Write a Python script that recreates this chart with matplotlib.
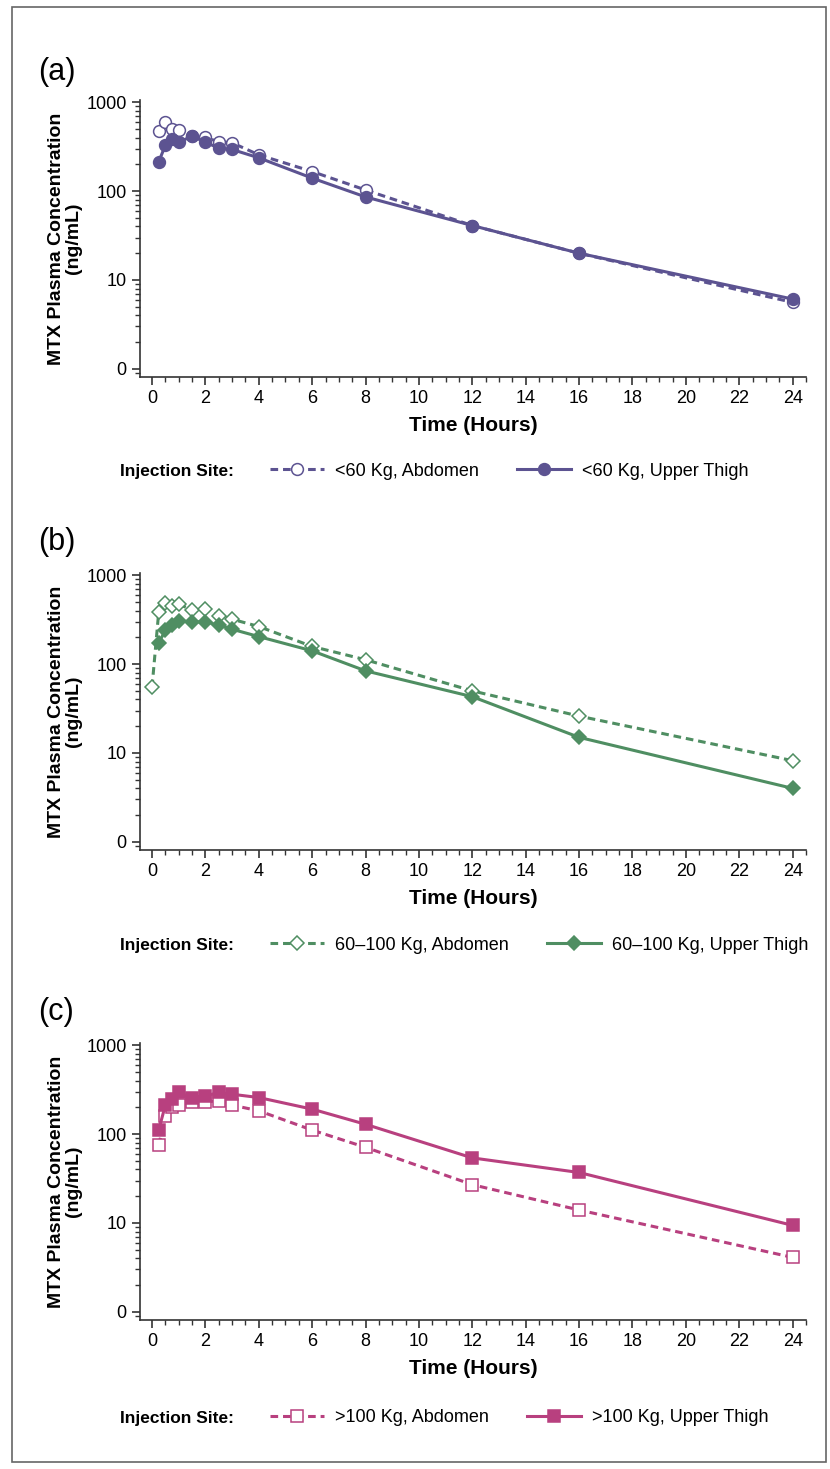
import matplotlib
matplotlib.use("Agg")
import matplotlib.pyplot as plt
from matplotlib.lines import Line2D
from matplotlib.patches import Rectangle
from matplotlib.ticker import FixedLocator, LogLocator, NullFormatter, MultipleLocator

plt.rcParams['font.family'] = ['Liberation Sans', 'DejaVu Sans']

# time points (hours)
time_a = [0.25, 0.5, 0.75, 1, 1.5, 2, 2.5, 3, 4, 6, 8, 12, 16, 24]
time_b = [0.25, 0.5, 0.75, 1, 1.5, 2, 2.5, 3, 4, 6, 8, 12, 16, 24]
time_b_abd = [0, 0.25, 0.5, 0.75, 1, 1.5, 2, 2.5, 3, 4, 6, 8, 12, 16, 24]
time_c = [0.25, 0.5, 0.75, 1, 1.5, 2, 2.5, 3, 4, 6, 8, 12, 16, 24]

# (a) <60 Kg
a_abdomen = [470, 600, 500, 485, 420, 402, 359, 350, 256, 166, 103, 41, 20, 5.6]
a_thigh = [213, 328, 385, 355, 415, 355, 305, 294, 237, 140, 86, 41, 20, 6.1]

# (b) 60-100 Kg
b_abdomen = [55, 381, 481, 452, 472, 407, 415, 349, 320, 265, 158, 112, 50, 26, 8.2]
b_thigh = [172, 241, 274, 307, 299, 299, 274, 247, 204, 141, 84, 43, 15, 4.0]

# (c) >100 Kg
c_abdomen = [75, 158, 200, 210, 231, 231, 237, 212, 183, 111, 71, 27, 14, 4.1]
c_thigh = [111, 212, 247, 294, 258, 269, 294, 281, 258, 191, 129, 54, 37, 9.4]

panel_letters = ["(a)", "(b)", "(c)"]
legend_labels = [
    ["<60 Kg, Abdomen", "<60 Kg, Upper Thigh"],
    ["60\u2013100 Kg, Abdomen", "60\u2013100 Kg, Upper Thigh"],
    [">100 Kg, Abdomen", ">100 Kg, Upper Thigh"],
]
colors = ["#5c5391", "#4f8e62", "#b8407f"]
markers = ["o", "D", "s"]
marker_sizes = [8.5, 7, 8]

series = [
    (time_a, a_abdomen, time_a, a_thigh),
    (time_b_abd, b_abdomen, time_b, b_thigh),
    (time_c, c_abdomen, time_c, c_thigh),
]

W, H = 830, 1469
fig = plt.figure(figsize=(W / 100, H / 100), dpi=100)

# grey frame around the figure
fig.patches.append(Rectangle((12 / W, 1 - 1462 / H), (826 - 12) / W, (1462 - 7) / H,
                             transform=fig.transFigure, fill=False,
                             edgecolor="#666666", linewidth=1.2))

ax_top = [100, 573, 1043]       # pixel top of each axes
label_y = [72, 542, 1012]
legend_y = [471, 945, 1418]
ax_left, ax_right, ax_h = 140, 806, 277

for i in range(3):
    tx, ya, tx2, yt = series[i]
    col = colors[i]
    ax = fig.add_axes([ax_left / W, 1 - (ax_top[i] + ax_h) / H,
                       (ax_right - ax_left) / W, ax_h / H])
    ax.plot(tx, ya, linestyle="--", dashes=(2.5, 1.6), color=col, lw=2.2,
            marker=markers[i], ms=marker_sizes[i], mfc="white", mec=col, mew=1.1)
    ax.plot(tx2, yt, linestyle="-", color=col, lw=2.2,
            marker=markers[i], ms=marker_sizes[i], mfc=col, mec=col, mew=1.1)

    ax.set_yscale("log")
    ax.set_ylim(0.81, 1060)
    ax.set_xlim(-0.45, 24.5)
    ax.yaxis.set_major_locator(FixedLocator([1, 10, 100, 1000]))
    ax.set_yticklabels(["0", "10", "100", "1000"])
    ax.yaxis.set_minor_locator(LogLocator(base=10, subs=range(2, 10)))
    ax.yaxis.set_minor_formatter(NullFormatter())
    ax.xaxis.set_major_locator(MultipleLocator(2))
    ax.xaxis.set_minor_locator(MultipleLocator(0.5))

    for s in ["top", "right"]:
        ax.spines[s].set_visible(False)
    for s in ["left", "bottom"]:
        ax.spines[s].set_linewidth(1.2)
        ax.spines[s].set_color("#333333")
    ax.tick_params(which="major", length=6, width=1.2, labelsize=13, color="#333333")
    ax.tick_params(which="minor", length=3.5, width=1.0, color="#333333")

    ax.set_xlabel("Time (Hours)", fontsize=15, fontweight="bold", labelpad=6)
    ax.set_ylabel("MTX Plasma Concentration\n(ng/mL)", fontsize=14,
                  fontweight="bold", labelpad=3, linespacing=1.0)

    fig.text(38 / W, 1 - label_y[i] / H, panel_letters[i], fontsize=22,
             va="center", ha="left")

    fig.text(120 / W, 1 - legend_y[i] / H, "Injection Site:", fontsize=12.5,
             fontweight="bold", va="center", ha="left")
    handles = [
        Line2D([], [], linestyle="--", dashes=(2.5, 1.6), color=col, lw=2.2,
               marker=markers[i], ms=marker_sizes[i], mfc="white", mec=col, mew=1.1),
        Line2D([], [], linestyle="-", color=col, lw=2.2,
               marker=markers[i], ms=marker_sizes[i], mfc=col, mec=col, mew=1.1),
    ]
    fig.legend(handles, legend_labels[i], loc="center left", ncol=2,
               bbox_to_anchor=(270 / W, 1 - legend_y[i] / H), frameon=False,
               prop={"size": 13},
               handlelength=3.0, handletextpad=0.6, columnspacing=2.1,
               borderaxespad=0, borderpad=0)

fig.savefig("out.png", dpi=100)
